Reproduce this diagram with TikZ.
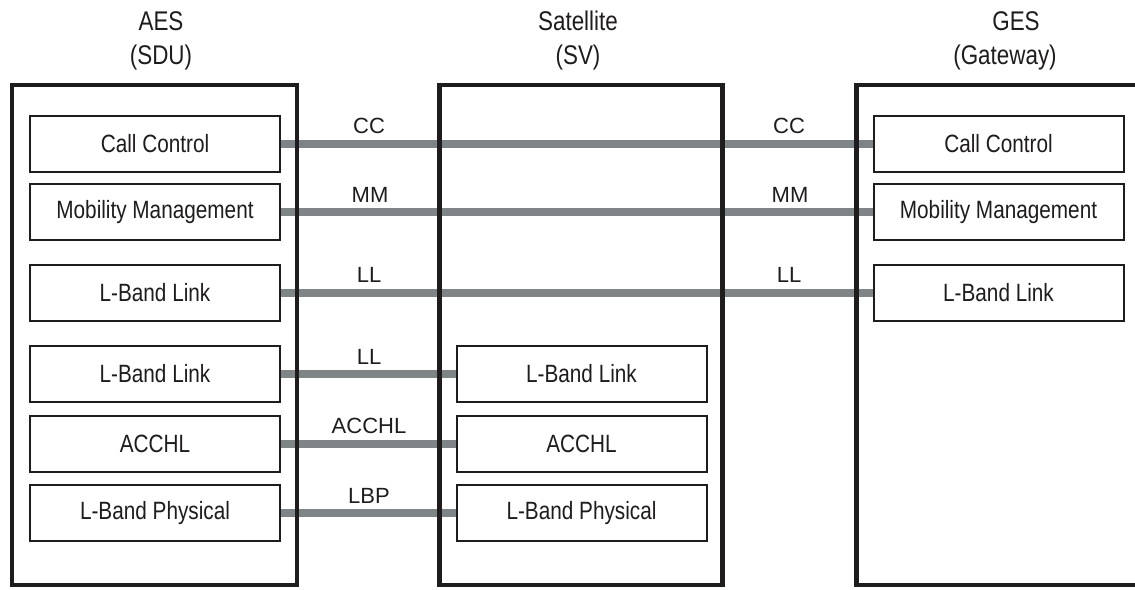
\documentclass[tikz,border=0pt]{standalone}
\usepackage{fontspec}
\setmainfont{Liberation Sans}
\newfontfamily\narrowfont{Liberation Sans}[FakeStretch=0.83]
\usetikzlibrary{backgrounds}
\definecolor{linkgray}{RGB}{127,133,135}
\definecolor{ink}{RGB}{30,28,29}
\begin{document}
\begin{tikzpicture}[x=1pt,y=-1pt,
  layerbox/.style={draw=ink, line width=2pt, fill=white, minimum width=250pt,
    minimum height=56pt, inner sep=0pt, text=ink,
    font=\narrowfont\fontsize{25}{30}\selectfont},
  outerbox/.style={draw=ink, line width=4.5pt},
  link/.style={draw=linkgray, line width=8pt},
  linklabel/.style={anchor=base, inner sep=0pt, text=ink,
    font=\fontsize{22}{26}\selectfont},
  heading/.style={anchor=base, inner sep=0pt, text=ink,
    font=\narrowfont\fontsize{27}{32}\selectfont}]
\useasboundingbox (0,0) rectangle (1135,589);
\clip (0,0) rectangle (1135,589);

% headings
\node[heading] (hAES) at (161,30) {AES};
\node[heading] (hSDU) at (161,64) {(SDU)};
\node[heading] (hSat) at (578,30) {Satellite};
\node[heading] (hSV) at (578,64) {(SV)};
\node[heading] (hGES) at (1016,30) {GES};
\node[heading] (hGW) at (1005,64) {(Gateway)};

% outer boxes
\draw[outerbox] (12,85) rectangle (297,585);
\draw[outerbox] (439.5,85) rectangle (722.5,585);
\draw[outerbox] (856.5,85) rectangle (1145,585);

% AES layers
\node[layerbox] (aesCC) at (155,143.5) {Call Control};
\node[layerbox] (aesMM) at (155,212) {Mobility Management};
\node[layerbox] (aesLL) at (155,292.5) {L-Band Link};
\node[layerbox] (aesLLb) at (155,374) {L-Band Link};
\node[layerbox] (aesAC) at (155,443.5) {ACCHL};
\node[layerbox] (aesLBP) at (155,513) {L-Band Physical};

% Satellite layers
\node[layerbox] (svLL) at (581.5,374) {L-Band Link};
\node[layerbox] (svAC) at (581.5,443.5) {ACCHL};
\node[layerbox] (svLBP) at (581.5,513) {L-Band Physical};

% GES layers
\node[layerbox] (gesCC) at (998.5,143.5) {Call Control};
\node[layerbox] (gesMM) at (998.5,212) {Mobility Management};
\node[layerbox] (gesLL) at (998.5,292.5) {L-Band Link};

% connectors
\begin{pgfonlayer}{background}
\draw[link] (aesCC.east) -- (gesCC.west);
\draw[link] (aesMM.east) -- (gesMM.west);
\draw[link] (aesLL.east) -- (gesLL.west);
\draw[link] (aesLLb.east) -- (svLL.west);
\draw[link] (aesAC.east) -- (svAC.west);
\draw[link] (aesLBP.east) -- (svLBP.west);
\end{pgfonlayer}

% labels
\node[linklabel] (lCCa) at (369,133) {CC};
\node[linklabel] (lCCb) at (789,133) {CC};
\node[linklabel] (lMMa) at (370,202) {MM};
\node[linklabel] (lMMb) at (790,202) {MM};
\node[linklabel] (lLLa) at (369,282.5) {LL};
\node[linklabel] (lLLb) at (789,282.5) {LL};
\node[linklabel] (lLLc) at (369,364) {LL};
\node[linklabel] (lAC) at (369,433) {ACCHL};
\node[linklabel] (lLBP) at (369,503) {LBP};
\end{tikzpicture}
\end{document}
